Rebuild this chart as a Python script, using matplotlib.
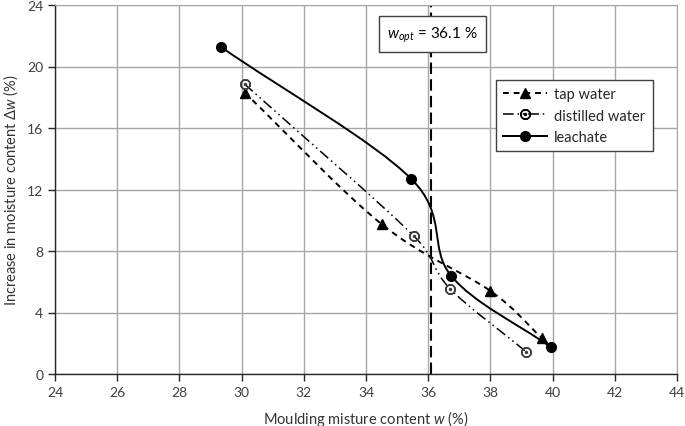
import numpy as np
import matplotlib
matplotlib.use("Agg")
import matplotlib.pyplot as plt
from matplotlib.path import Path
from matplotlib.patches import PathPatch
from matplotlib.lines import Line2D

# data
tap_w = [30.1, 34.5, 38.0, 39.65]
tap_dw = [18.3, 9.75, 5.4, 2.35]
dist_w = [30.1, 35.55, 36.7, 39.15]
dist_dw = [18.85, 8.95, 5.55, 1.45]
leach_w = [29.35, 35.45, 36.74, 39.94]
leach_dw = [21.25, 12.7, 6.38, 1.75]
w_opt = 36.1
x_ticks = list(range(24, 45, 2))
y_ticks = list(range(0, 25, 4))

plt.rcParams['font.family'] = ['Lato', 'DejaVu Sans']
plt.rcParams['mathtext.fontset'] = 'custom'
plt.rcParams['mathtext.it'] = 'Lato:italic'
plt.rcParams['mathtext.rm'] = 'Lato'

TEXT = '#333333'
GRID = '#a6a6a6'

# plot area in pixels of the 685x427 picture
AX_L, AX_R, AX_T, AX_B = 55, 677, 6, 375


def excel_smooth(ax, xs, ys, **kw):
    """Excel-style smoothed line: Bezier segments built in display space."""
    pts = ax.transData.transform(np.column_stack([xs, ys]))
    n = len(pts)
    verts = [pts[0]]
    codes = [Path.MOVETO]
    for i in range(n - 1):
        p1, p2 = pts[i], pts[i + 1]
        p0 = pts[i - 1] if i > 0 else p1
        p3 = pts[i + 2] if i + 2 < n else p2
        d12 = np.hypot(*(p2 - p1))
        d02 = np.hypot(*(p2 - p0))
        d13 = np.hypot(*(p3 - p1))
        f0 = 1 / 6 if i > 0 else 1 / 3
        f3 = 1 / 6 if i + 2 < n else 1 / 3
        if d02 * f0 > d12 / 2:
            f0 = d12 / (2 * d02)
        if d13 * f3 > d12 / 2:
            f3 = d12 / (2 * d13)
        c1 = p1 + f0 * (p2 - p0)
        c2 = p2 - f3 * (p3 - p1)
        verts += [c1, c2, p2]
        codes += [Path.CURVE4] * 3
    verts = ax.transData.inverted().transform(np.array(verts))
    patch = PathPatch(Path(verts, codes), fill=False, **kw)
    ax.add_patch(patch)


def main():
    fig = plt.figure(figsize=(6.85, 4.27), dpi=100)
    aw, ah = AX_R - AX_L, AX_B - AX_T
    ax = fig.add_axes([AX_L / 685, 1 - AX_B / 427, aw / 685, ah / 427])
    ax.set_xlim(24, 44)
    ax.set_ylim(0, 24)
    ax.set_xticks(x_ticks)
    ax.set_yticks(y_ticks)
    ax.grid(True, color=GRID, lw=1.0)
    ax.set_axisbelow(True)
    for s in ['top', 'right']:
        ax.spines[s].set_color(GRID)
    for s in ['left', 'bottom']:
        ax.spines[s].set_color('#262626')
        ax.spines[s].set_linewidth(1.0)
    ax.tick_params(direction='out', length=5, width=1, color='#262626',
                   labelsize=10, labelcolor='#404040')
    ax.tick_params(top=False, right=False)

    tap_ls = (0, (3, 2.5))
    dist_ls = (0, (7, 2.5, 1, 2.5, 1, 2.5))

    excel_smooth(ax, tap_w, tap_dw, edgecolor='black', lw=1.4, ls=tap_ls)
    excel_smooth(ax, dist_w, dist_dw, edgecolor='black', lw=1.1, ls=dist_ls)
    excel_smooth(ax, leach_w, leach_dw, edgecolor='black', lw=1.4)

    ax.plot(tap_w, tap_dw, ls='none', marker='^', ms=7, color='black')
    ax.plot(dist_w, dist_dw, ls='none', marker=r'$\odot$', ms=7,
            color='#404040')
    ax.plot(leach_w, leach_dw, ls='none', marker='o', ms=7, color='black')

    ax.axvline(w_opt, color='black', lw=1.5, ls=(0, (5.5, 2.5)))

    ax.text(36.13, 22.1, r"$w_{opt}$ = 36.1 %", fontsize=11, color='black',
            ha='center', va='center',
            bbox=dict(boxstyle='square,pad=0.55', fc='white', ec='#404040',
                      lw=1.0))

    handles = [
        Line2D([], [], color='black', ls=tap_ls, lw=1.4, marker='^', ms=7),
        Line2D([], [], color='black', ls=dist_ls, lw=1.1,
               marker=r'$\odot$', ms=7),
        Line2D([], [], color='black', lw=1.4, marker='o', ms=7),
    ]
    leg = ax.legend(handles, ['tap water', 'distilled water', 'leachate'],
                    loc='upper left',
                    bbox_to_anchor=((496 - AX_L) / aw, (AX_B - 81) / ah),
                    borderaxespad=0, fontsize=10.5, handlelength=3.0,
                    handletextpad=0.5, labelspacing=0.5, borderpad=0.5,
                    fancybox=False, framealpha=1, edgecolor='#404040',
                    labelcolor='#262626')
    leg.get_frame().set_linewidth(1.0)

    ax.set_xlabel(r"Moulding misture content $w$ (%)", fontsize=10.5,
                  color=TEXT, labelpad=7)
    ax.set_ylabel(r"Increase in moisture content $Δw$ (%)", fontsize=10.5,
                  color=TEXT, labelpad=5)

    fig.savefig('out.png', dpi=100)


if __name__ == "__main__":
    main()
